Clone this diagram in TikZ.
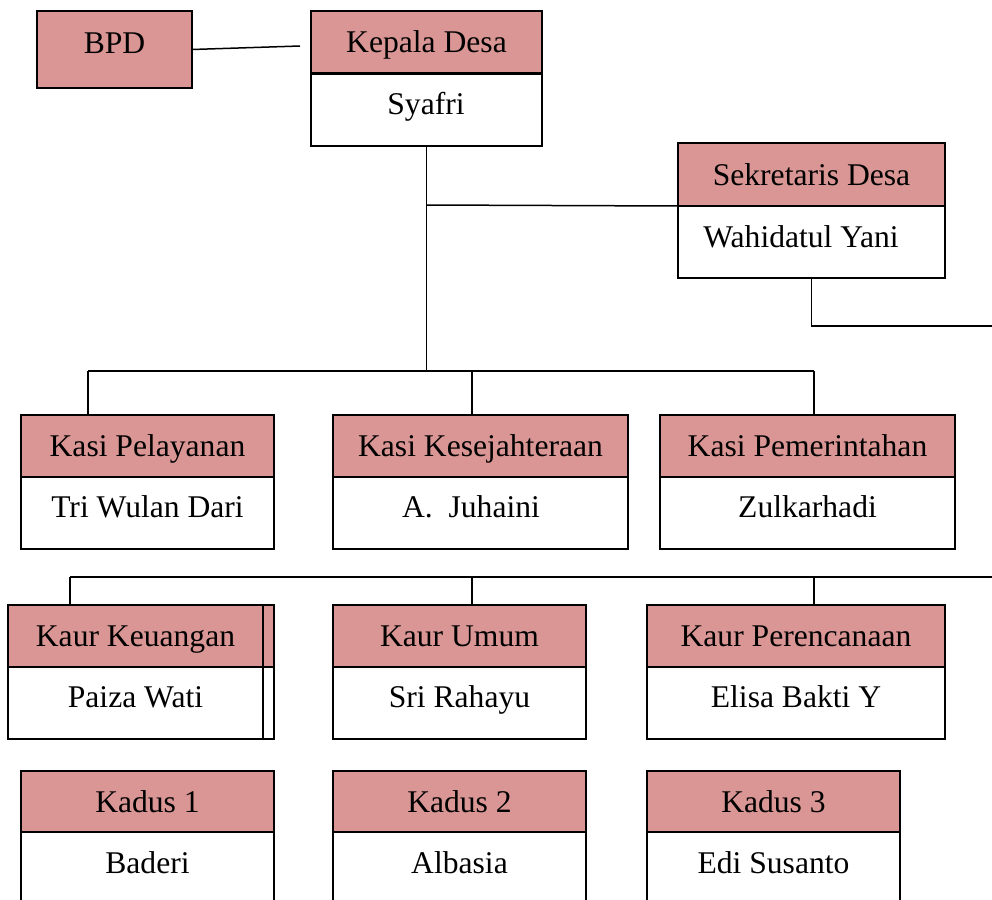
\documentclass[tikz,border=0pt]{standalone}
\usepackage{fontspec}
\setmainfont{Liberation Serif}
\definecolor{pinkc}{RGB}{217,150,148}
\tikzset{
  txt/.style={font=\fontsize{31.6}{38}\selectfont, text height=21pt, text depth=0pt},
  box/.style={draw=black, line width=1.6pt, inner sep=0pt, outer sep=0pt, anchor=north west, txt},
  hdr/.style={box, fill=pinkc},
  bdy/.style={box, fill=white},
  lbl/.style={txt, inner sep=0pt},
  conn/.style={line width=1.5pt},
  split/.style={line width=3pt},
}
\begin{document}
\begin{tikzpicture}[x=1pt,y=-1pt]
\useasboundingbox (0,0) rectangle (992,899);
\clip (0,0) rectangle (992,899);
% top
\node[hdr, minimum width=155pt, minimum height=77pt, text depth=14pt] (bpd) at (37,11) {BPD};
\node[hdr, minimum width=231pt, minimum height=62pt] (kdh) at (311,11) {Kepala Desa};
\node[bdy, minimum width=231pt, minimum height=73pt] (kdb) at (311,73) {};
\node[lbl] (kdt) at (426,104) {Syafri};
\draw[split] (kdb.north west) -- (kdb.north east);
% sekretaris
\node[hdr, minimum width=267pt, minimum height=63pt] (sdh) at (678,143) {Sekretaris Desa};
\node[bdy, minimum width=267pt, minimum height=72pt] (sdb) at (678,206) {};
\node[lbl] (sdt) at (801,237) {Wahidatul Yani};
\draw[line width=2.4pt] (sdb.north west) -- (sdb.north east);
% kasi
\node[hdr, minimum width=253pt, minimum height=62pt] (kph) at (21,415) {Kasi Pelayanan};
\node[bdy, minimum width=253pt, minimum height=72pt] (kpb) at (21,477) {};
\node[lbl] (kpt) at (147.5,507) {Tri Wulan Dari};
\node[hdr, minimum width=295pt, minimum height=62pt] (kkh) at (333,415) {Kasi Kesejahteraan};
\node[bdy, minimum width=295pt, minimum height=72pt] (kkb) at (333,477) {};
\node[lbl] (kkt) at (471,507) {A.\ \ Juhaini};
\node[hdr, minimum width=295pt, minimum height=62pt] (kmh) at (660,415) {Kasi Pemerintahan};
\node[bdy, minimum width=295pt, minimum height=72pt] (kmb) at (660,477) {};
\node[lbl] (kmt) at (807.5,507) {Zulkarhadi};
% kaur
\draw[line width=1.6pt, fill=pinkc] (263,605) rectangle (274,667);
\draw[line width=1.6pt, fill=white] (263,667) rectangle (274,739);
\node[hdr, minimum width=255pt, minimum height=62pt] (kuh) at (8,605) {Kaur Keuangan};
\node[bdy, minimum width=255pt, minimum height=72pt] (kub) at (8,667) {};
\node[lbl] (kut) at (135.5,697) {Paiza Wati};
\node[hdr, minimum width=253pt, minimum height=62pt] (umh) at (333,605) {Kaur Umum};
\node[bdy, minimum width=253pt, minimum height=72pt] (umb) at (333,667) {};
\node[lbl] (umt) at (459.5,697) {Sri Rahayu};
\node[hdr, minimum width=298pt, minimum height=62pt] (prh) at (647,605) {Kaur Perencanaan};
\node[bdy, minimum width=298pt, minimum height=72pt] (prb) at (647,667) {};
\node[lbl] (prt) at (796,697) {Elisa Bakti Y};
% kadus
\node[hdr, minimum width=253pt, minimum height=61pt] (d1h) at (21,771) {Kadus 1};
\node[bdy, minimum width=253pt, minimum height=80pt] (d1b) at (21,832) {};
\node[lbl] (d1t) at (147.5,863) {Baderi};
\node[hdr, minimum width=253pt, minimum height=61pt] (d2h) at (333,771) {Kadus 2};
\node[bdy, minimum width=253pt, minimum height=80pt] (d2b) at (333,832) {};
\node[lbl] (d2t) at (459.5,863) {Albasia};
\node[hdr, minimum width=253pt, minimum height=61pt] (d3h) at (647,771) {Kadus 3};
\node[bdy, minimum width=253pt, minimum height=80pt] (d3b) at (647,832) {};
\node[lbl] (d3t) at (773.5,863) {Edi Susanto};
% connectors
\coordinate (bpdend) at (300,46);
\draw[conn] (bpd.east) -- (bpdend);
\coordinate (j1) at (426.5,205);
\coordinate (j2) at (426.5,371);
\draw[conn] (kdb.south) -- (j2);
\draw[conn] (j1) -- (sdb.north west);
\coordinate (sdend) at (992,326);
\draw[conn] (sdb.south) |- (sdend);
\coordinate (t1) at (88,371);
\coordinate (t2) at (472,371);
\coordinate (t3) at (814,371);
\draw[conn] (t1) -- (t3);
\draw[conn] (t1) -- (t1 |- kph.north);
\draw[conn] (t2) -- (t2 |- kkh.north);
\draw[conn] (t3) -- (t3 |- kmh.north);
\coordinate (u1) at (70,577);
\coordinate (u2) at (472,577);
\coordinate (u3) at (814,577);
\coordinate (uend) at (992,577);
\draw[conn] (u1) -- (uend);
\draw[conn] (u1) -- (u1 |- kuh.north);
\draw[conn] (u2) -- (u2 |- umh.north);
\draw[conn] (u3) -- (u3 |- prh.north);
\end{tikzpicture}
\end{document}
